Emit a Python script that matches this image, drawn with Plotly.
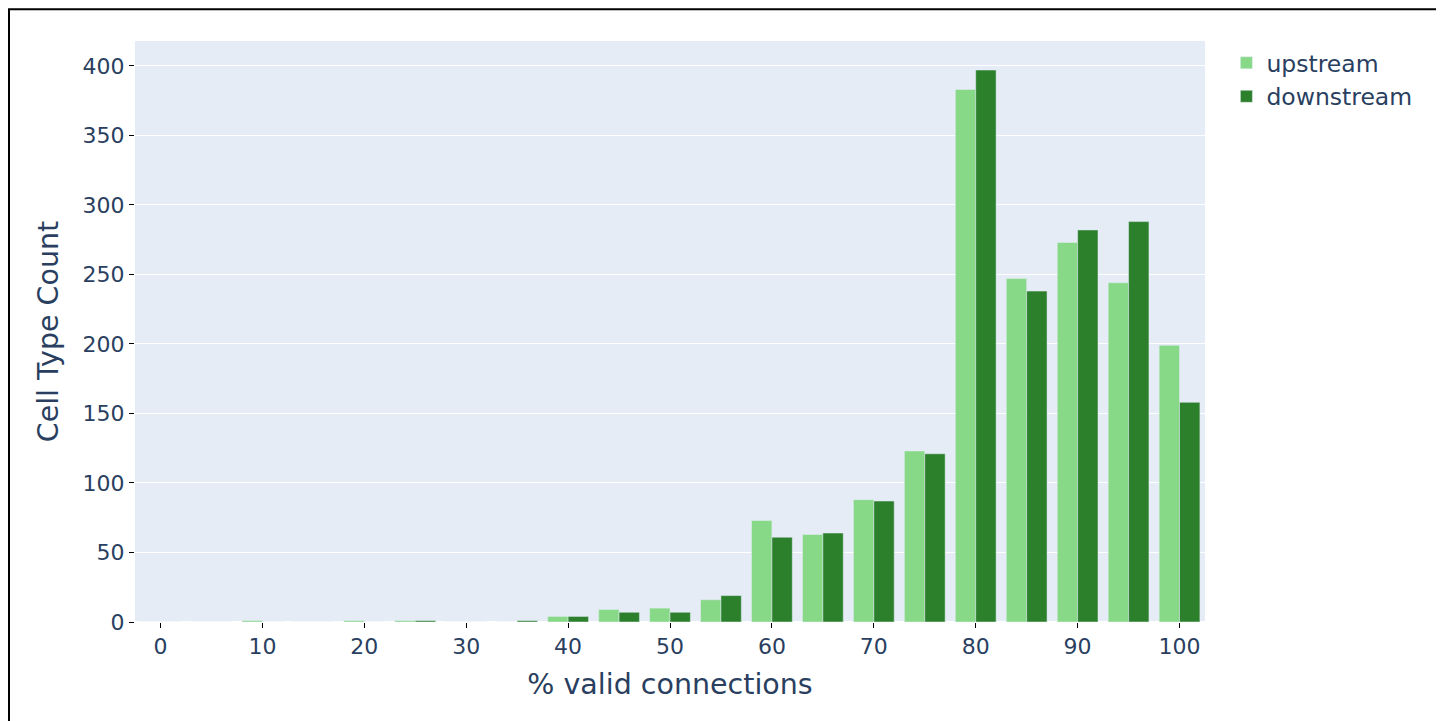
import plotly.graph_objects as go

bins = [0, 5, 10, 15, 20, 25, 30, 35, 40, 45, 50, 55, 60, 65, 70, 75, 80, 85, 90, 95, 100]
upstream = [0, 0, 1, 0, 1, 1, 0, 0, 4, 9, 10, 16, 73, 63, 88, 123, 383, 247, 273, 244, 199]
downstream = [0, 0, 0, 0, 0, 1, 0, 1, 4, 7, 7, 19, 61, 64, 87, 121, 397, 238, 282, 288, 158]

fig = go.Figure()
fig.add_trace(go.Bar(x=bins, y=upstream, name="upstream", marker_color="#88d987"))
fig.add_trace(go.Bar(x=bins, y=downstream, name="downstream", marker_color="#2c802c"))

W, H = 1436, 713
# plot area in figure px: left 127, right 1197, top 33, bottom 614
L, R, T, B = 127, 1197, 33, 614
fig.update_layout(
    template="plotly",
    width=W,
    height=H,
    barmode="group",
    margin=dict(l=L, r=W - R, t=T, b=H - B),
    font=dict(family="DejaVu Sans, Verdana, sans-serif", size=22),
    xaxis=dict(title=dict(text="% valid connections", font=dict(size=28.5)),
               ticks="outside", tickcolor="black", ticklen=5, dtick=10),
    yaxis=dict(title=dict(text="Cell Type Count", font=dict(size=28.5)),
               ticks="outside", tickcolor="black", ticklen=5),
    legend=dict(font=dict(size=23.5)),
    shapes=[dict(type="rect", xref="paper", yref="paper",
                 x0=(1 - L) / (R - L), x1=(1430.7 - L) / (R - L),
                 y0=(B - (H + 20)) / (B - T), y1=(B - 1.3) / (B - T),
                 line=dict(color="black", width=2), layer="above")],
)

fig.write_html("out.html")
